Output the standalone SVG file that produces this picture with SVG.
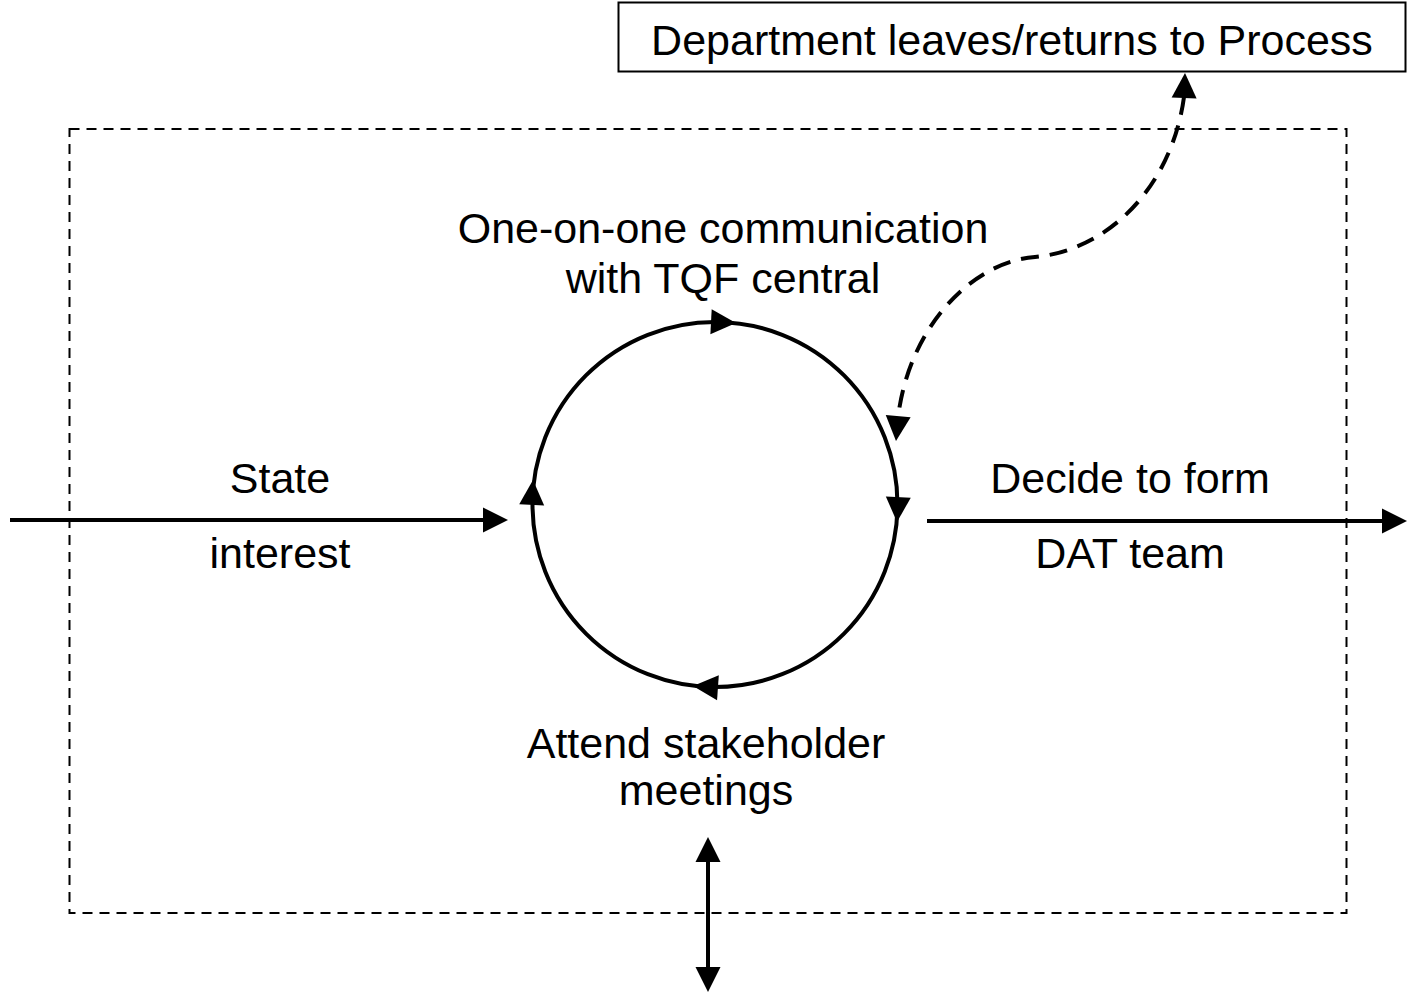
<svg xmlns="http://www.w3.org/2000/svg" xmlns:xlink="http://www.w3.org/1999/xlink" width="1407" height="993" viewBox="0 0 1407 993">
  <style>
    .lbl { font-family: "Liberation Sans", Arial, sans-serif; font-size: 43px; fill: #000; text-anchor: middle; }
    .solid { fill: none; stroke: #000; stroke-width: 4; }
    .dash { fill: none; stroke: #000; stroke-width: 4; stroke-dasharray: 18 11; }
    .frame { fill: none; stroke: #000; stroke-width: 2; stroke-dasharray: 10 7; }
    .head { fill: #000; stroke: none; }
  </style>
  <defs>
    <!-- arrowhead with its tip at the origin, pointing along +x -->
    <path id="ah" class="head" d="M0,0 L-25,-12.5 L-25,12.5 Z"/>
  </defs>
  <rect width="1407" height="993" fill="#fff"/>

  <!-- dashed process boundary -->
  <g id="boundary">
    <rect class="frame" x="69.5" y="129" width="1277" height="784"/>
  </g>

  <!-- external box -->
  <g id="node-department">
    <rect x="618.5" y="2.5" width="787" height="69" fill="#fff" stroke="#000" stroke-width="2"/>
    <text class="lbl" x="1012" y="55">Department leaves/returns to Process</text>
  </g>

  <!-- cycle of activities -->
  <g id="node-cycle">
    <circle class="solid" cx="715" cy="504.5" r="182.5"/>
    <use xlink:href="#ah" transform="translate(736,323) rotate(3)"/>
    <use xlink:href="#ah" transform="translate(897,522) rotate(93)"/>
    <use xlink:href="#ah" transform="translate(693,686) rotate(184)"/>
    <use xlink:href="#ah" transform="translate(533,480) rotate(-87)"/>
  </g>

  <g id="label-communication">
    <text class="lbl" x="723" y="243">One-on-one communication</text>
    <text class="lbl" x="723" y="293">with TQF central</text>
  </g>
  <g id="label-meetings">
    <text class="lbl" x="706" y="758">Attend stakeholder</text>
    <text class="lbl" x="706" y="805">meetings</text>
  </g>
  <g id="label-state">
    <text class="lbl" x="280" y="493">State</text>
    <text class="lbl" x="280" y="568">interest</text>
  </g>
  <g id="label-decide">
    <text class="lbl" x="1130" y="493">Decide to form</text>
    <text class="lbl" x="1130" y="568">DAT team</text>
  </g>

  <!-- connectors -->
  <g id="connectors">
    <!-- entry -->
    <line class="solid" x1="10" y1="520" x2="490" y2="520"/>
    <use xlink:href="#ah" transform="translate(508,520)"/>
    <!-- exit -->
    <line class="solid" x1="927" y1="521" x2="1390" y2="521"/>
    <use xlink:href="#ah" transform="translate(1407,521)"/>
    <!-- leave / return link -->
    <path class="dash" d="M1184,97 C1172,185 1110,250 1035,257 C970,262 908,330 898,418"/>
    <use xlink:href="#ah" transform="translate(1185,73) rotate(-88)"/>
    <use xlink:href="#ah" transform="translate(896,441) rotate(95)"/>
    <!-- stakeholder exchange -->
    <line class="solid" x1="708" y1="855" x2="708" y2="975"/>
    <use xlink:href="#ah" transform="translate(708,837) rotate(-90)"/>
    <use xlink:href="#ah" transform="translate(708,992) rotate(90)"/>
  </g>
</svg>
